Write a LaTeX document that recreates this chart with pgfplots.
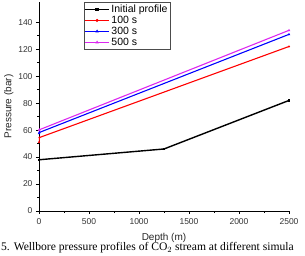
\documentclass[border=0pt]{standalone}
\usepackage{pgfplots}
\pgfplotsset{compat=1.18}
\usepackage{fontspec}
\setmainfont{Liberation Sans}
\newfontfamily\capfont{Liberation Serif}
\definecolor{mag}{RGB}{220,40,240}
\begin{document}
\begin{tikzpicture}
\useasboundingbox (-39pt,-44pt) rectangle (266pt,211pt);
\begin{axis}[
  at={(0,0)}, anchor=origin,
  scale only axis, width=250pt, height=209pt,
  xmin=0, xmax=2500, ymin=0, ymax=155,
  axis lines=left, axis line style={-, line width=0.6pt},
  tick align=outside, tick style={black, line width=0.5pt},
  major tick length=3pt, minor tick length=1.8pt,
  xtick={0,500,...,2500}, ytick={0,20,...,140},
  minor x tick num=1, minor y tick num=1,
  scaled x ticks=false,
  ticklabel style={font=\fontsize{8.5}{9}\selectfont, text=black!80},
  xticklabel style={yshift=-1pt},
  /pgf/number format/assume math mode=true,
  /pgf/number format/1000 sep={},
  xlabel={Depth (m)}, ylabel={Pressure (bar)},
  label style={font=\fontsize{10}{11}\selectfont, text=black!85},
  xlabel style={yshift=-2pt}, ylabel style={yshift=-2pt},
  legend style={at={(0.18,1.0)}, anchor=north west, draw=black!70,
    font=\fontsize{10.5}{12}\selectfont, inner sep=0.5pt, row sep=-1.8pt},
  legend cell align=left,
  legend image code/.code={\draw[#1, mark=none, line width=0.6pt] (-0.05cm,0cm) -- (0.8cm,0cm); \draw[#1, only marks, mark size=0.9pt] plot coordinates {(0.375cm,0cm)};},
]
\addplot[black, line width=1.4pt, mark=square*, mark size=0.4pt] coordinates {(0,38) (1250,46) (2500,82)};
\addlegendentry{Initial profile}
\addplot[red, line width=1.1pt, mark=*, mark size=0.4pt] coordinates {(0,51) (5,54.5) (2500,122)};
\addlegendentry{100 s}
\addplot[blue, line width=1.1pt, mark=triangle*, mark size=0.4pt] coordinates {(0,57.5) (5,58.3) (2500,131)};
\addlegendentry{300 s}
\addplot[mag, line width=1.1pt, mark=triangle*, mark size=0.4pt] coordinates {(0,59.8) (5,60.3) (2500,134)};
\addlegendentry{500 s}
\end{axis}
\node[anchor=west, font=\capfont\fontsize{11.6}{13}\selectfont, inner sep=0pt] at (-38pt,-37pt) {5. Wellbore pressure profiles of CO$_2$ stream at different simula};
\end{tikzpicture}
\end{document}
